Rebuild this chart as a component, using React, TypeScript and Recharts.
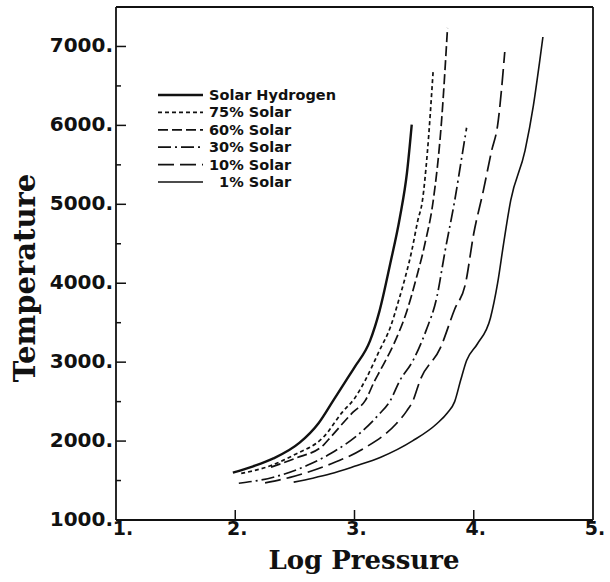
import { LineChart, Line, XAxis, YAxis, Legend } from "recharts";

// log pressure / temperature pairs
const solarH_P = [1.98, 2.15, 2.32, 2.54, 2.70, 2.82, 2.93, 3.00, 3.13, 3.21, 3.30, 3.38, 3.44, 3.48];
const solarH_T = [1600, 1680, 1780, 1980, 2230, 2510, 2770, 2935, 3270, 3650, 4250, 4830, 5400, 6010];

const s75_P = [2.05, 2.30, 2.50, 2.74, 2.90, 3.00, 3.09, 3.21, 3.30, 3.37, 3.43, 3.48, 3.53, 3.57, 3.61, 3.66];
const s75_T = [1590, 1690, 1830, 2050, 2370, 2540, 2770, 3150, 3440, 3780, 4100, 4410, 4790, 5050, 5640, 6700];

const s60_P = [2.30, 2.50, 2.74, 2.80, 2.99, 3.09, 3.17, 3.215, 3.33, 3.44, 3.52, 3.59, 3.66, 3.73, 3.78];
const s60_T = [1670, 1780, 1950, 2050, 2370, 2513, 2766, 2893, 3231, 3652, 4074, 4497, 5045, 6056, 7235];

const s30_P = [2.03, 2.32, 2.60, 2.80, 3.07, 3.20, 3.30, 3.38, 3.49, 3.60, 3.69, 3.76, 3.84, 3.90, 3.94];
const s30_T = [1466, 1542, 1690, 1842, 2133, 2330, 2513, 2766, 3019, 3400, 3821, 4412, 5045, 5600, 5970];

const s10_P = [2.25, 2.46, 2.80, 3.07, 3.35, 3.44, 3.49, 3.55, 3.72, 3.84, 3.93, 4.00, 4.08, 4.15, 4.20, 4.26];
const s10_T = [1470, 1540, 1710, 1900, 2220, 2386, 2510, 2770, 3180, 3670, 3990, 4630, 5170, 5680, 6000, 6930];

const s1_P = [2.49, 2.65, 2.80, 3.00, 3.22, 3.49, 3.69, 3.78, 3.84, 3.89, 3.94, 4.03, 4.14, 4.20, 4.25, 4.31, 4.43, 4.50, 4.55, 4.58];
const s1_T = [1480, 1530, 1585, 1680, 1795, 2005, 2220, 2360, 2500, 2770, 3020, 3230, 3560, 4000, 4500, 5050, 5680, 6250, 6780, 7120];

const X_TICKS = [1, 2, 3, 4, 5];
const Y_TICKS = [1000, 1500, 2000, 2500, 3000, 3500, 4000, 4500, 5000, 5500, 6000, 6500, 7000];

const INK = "#111";
const SANS = "'DejaVu Sans', sans-serif";
const SERIF = "'DejaVu Serif', serif";

const zip = (p: number[], t: number[]) => p.map((v, i) => ({ p: v, t: t[i] }));

const SERIES = [
  { name: "Solar Hydrogen", data: zip(solarH_P, solarH_T), width: 2.4, dash: undefined },
  { name: "75% Solar", data: zip(s75_P, s75_T), width: 1.7, dash: "4 3" },
  { name: "60% Solar", data: zip(s60_P, s60_T), width: 1.7, dash: "10 4" },
  { name: "30% Solar", data: zip(s30_P, s30_T), width: 1.7, dash: "13 4 2 4" },
  { name: "10% Solar", data: zip(s10_P, s10_T), width: 1.7, dash: "16 6" },
  { name: "\u20071% Solar", data: zip(s1_P, s1_T), width: 1.6, dash: undefined },
];

function LeftTick({ x, y, payload }: any) {
  const v = payload.value;
  const major = v % 1000 === 0;
  return (
    <g>
      <line x1={x} x2={x + (major ? 10 : 5)} y1={y} y2={y} stroke={INK} strokeWidth={1.5} />
      {major && (
        <text x={x - 3} y={y} dy={6} textAnchor="end" fill={INK} fontFamily={SANS} fontWeight={700} fontSize={20}>
          {v}.
        </text>
      )}
    </g>
  );
}

function RightTick({ x, y }: any) {
  return <line x1={x} x2={x - 10} y1={y} y2={y} stroke={INK} strokeWidth={1.5} />;
}

function BottomTick({ x, y, payload }: any) {
  const v = payload.value;
  return (
    <g>
      {v > 1 && v < 5 && <line x1={x} x2={x} y1={y} y2={y - 10} stroke={INK} strokeWidth={1.5} />}
      <text x={x + (v === 1 ? 7 : 2)} y={y + 15} textAnchor="middle" fill={INK} fontFamily={SANS} fontWeight={700} fontSize={19}>
        {v}.
      </text>
    </g>
  );
}

function TopTick({ x, y }: any) {
  return <line x1={x} x2={x} y1={y} y2={y + 10} stroke={INK} strokeWidth={1.5} />;
}

function KeyBox() {
  return (
    <svg width={220} height={115}>
      {SERIES.map((s, i) => {
        const cy = 15 + i * 17.4;
        return (
          <g key={s.name}>
            <line x1={8} x2={53} y1={cy} y2={cy} stroke={INK} strokeWidth={s.width} strokeDasharray={s.dash} />
            <text x={59} y={cy} dy={5} fill={INK} fontFamily={SANS} fontWeight={700} fontSize={14.5}>
              {s.name}
            </text>
          </g>
        );
      })}
    </svg>
  );
}

export default function App() {
  return (
    <div style={{ position: "absolute", left: 0, top: 0, background: "#fff" }}>
      <LineChart width={610} height={582} margin={{ top: 0, right: 0, bottom: 0, left: 0 }}>
        <XAxis
          xAxisId="bottom" dataKey="p" type="number" domain={[1, 5]} ticks={X_TICKS}
          height={62} tickSize={0} tickMargin={0} tickLine={false}
          axisLine={{ stroke: INK, strokeWidth: 1.8 }} tick={<BottomTick />}
          label={() => (
            <text x={364} y={569} textAnchor="middle" fill={INK} fontFamily={SERIF} fontWeight={700} fontSize={26}>
              Log Pressure
            </text>
          )}
        />
        <XAxis
          xAxisId="top" orientation="top" type="number" domain={[1, 5]} ticks={[2, 3, 4]}
          height={7} tickSize={0} tickMargin={0} tickLine={false}
          axisLine={{ stroke: INK, strokeWidth: 1.8 }} tick={<TopTick />}
        />
        <YAxis
          yAxisId="left" type="number" domain={[1000, 7500]} ticks={Y_TICKS} allowDataOverflow
          width={116} tickSize={0} tickMargin={0} tickLine={false}
          axisLine={{ stroke: INK, strokeWidth: 1.8 }} tick={<LeftTick />}
          label={() => (
            <text x={25} y={278} transform="rotate(-90 25 278)" textAnchor="middle" dominantBaseline="central"
              fill={INK} fontFamily={SERIF} fontWeight={700} fontSize={29}>
              Temperature
            </text>
          )}
        />
        <YAxis
          yAxisId="right" orientation="right" type="number" domain={[1000, 7500]} ticks={Y_TICKS.slice(1)}
          width={17} tickSize={0} tickMargin={0} tickLine={false}
          axisLine={{ stroke: INK, strokeWidth: 1.8 }} tick={<RightTick />}
        />
        <Legend
          layout="vertical" align="center" verticalAlign="middle"
          wrapperStyle={{ left: 150, top: 80, width: 220 }}
          content={() => <KeyBox />}
        />
        {SERIES.map(s => (
          <Line
            key={s.name} xAxisId="bottom" yAxisId="left" data={s.data} dataKey="t" name={s.name}
            type="monotone" stroke={INK} strokeWidth={s.width} strokeDasharray={s.dash}
            dot={false} activeDot={false} isAnimationActive={false}
          />
        ))}
      </LineChart>
    </div>
  );
}
